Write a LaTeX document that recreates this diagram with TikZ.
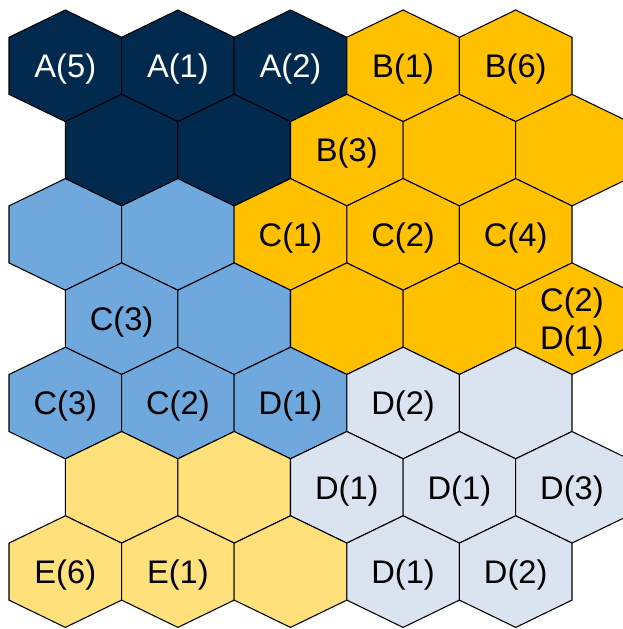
\documentclass[tikz,border=0pt]{standalone}
\usepackage{fontspec}
\setmainfont{Liberation Sans}
\usepackage{xcolor}
\usetikzlibrary{positioning}

\definecolor{navy}{HTML}{022A4E}
\definecolor{gold}{HTML}{FFC000}
\definecolor{skyblue}{HTML}{6FA8DC}
\definecolor{paleblue}{HTML}{DAE4F0}
\definecolor{sand}{HTML}{FFE07A}

\tikzset{
  hexcell/.style={draw=black, line width=0.8pt, line join=miter},
  lbl/.style={font=\fontsize{24.5}{28}\selectfont, text=black, inner sep=0pt, align=center, yshift=-2.5pt},
  lblw/.style={lbl, text=white}
}

\begin{document}
\begin{tikzpicture}[x=0.75pt, y=-0.75pt]
        \clip (0,0) rectangle (623,629);
        % rows of the grid, colours from left to right
        \foreach \r/\row in {0/{navy,navy,navy,gold,gold},
                             1/{navy,navy,gold,gold,gold},
                             2/{skyblue,skyblue,gold,gold,gold},
                             3/{skyblue,skyblue,gold,gold,gold},
                             4/{skyblue,skyblue,skyblue,paleblue,paleblue},
                             5/{sand,sand,paleblue,paleblue,paleblue},
                             6/{sand,sand,sand,paleblue,paleblue}} {
            \foreach \col [count=\c from 0] in \row {
                \pgfmathsetmacro{\cx}{65.3 + 112.6*\c + 56.3*mod(\r,2)}
                \pgfmathsetmacro{\cy}{65.8 + 84.3*\r}
                \coordinate (h-\r-\c) at (\cx,\cy);
                \draw[hexcell, fill=\col] (h-\r-\c) ++(0,-55.8) -- ++(56.3,27.3) -- ++(0,57)
                    -- ++(-56.3,27.3) -- ++(-56.3,-27.3) -- ++(0,-57) -- cycle;
            }
        }
        % labels
        \node[lblw] (a5) at (h-0-0) {A(5)};
        \node[lblw] (a1) at (h-0-1) {A(1)};
        \node[lblw] (a2) at (h-0-2) {A(2)};
        \node[lbl] (b1) at (h-0-3) {B(1)};
        \node[lbl] (b6) at (h-0-4) {B(6)};
        \node[lbl] (b3) at (h-1-2) {B(3)};
        \node[lbl] (c1) at (h-2-2) {C(1)};
        \node[lbl] (c2a) at (h-2-3) {C(2)};
        \node[lbl] (c4) at (h-2-4) {C(4)};
        \node[lbl] (c3a) at (h-3-0) {C(3)};
        \node[lbl] (c2d1) at (h-3-4) {C(2)\\D(1)};
        \node[lbl] (c3b) at (h-4-0) {C(3)};
        \node[lbl] (c2b) at (h-4-1) {C(2)};
        \node[lbl] (d1a) at (h-4-2) {D(1)};
        \node[lbl] (d2a) at (h-4-3) {D(2)};
        \node[lbl] (d1b) at (h-5-2) {D(1)};
        \node[lbl] (d1c) at (h-5-3) {D(1)};
        \node[lbl] (d3) at (h-5-4) {D(3)};
        \node[lbl] (e6) at (h-6-0) {E(6)};
        \node[lbl] (e1) at (h-6-1) {E(1)};
        \node[lbl] (d1d) at (h-6-3) {D(1)};
        \node[lbl] (d2b) at (h-6-4) {D(2)};
\end{tikzpicture}
\end{document}
